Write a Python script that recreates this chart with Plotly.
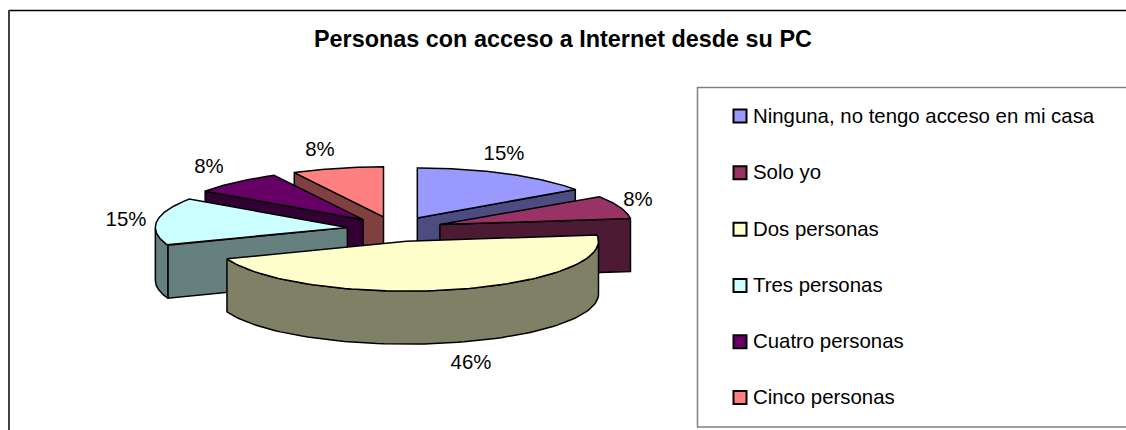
import numpy as np
import plotly.graph_objects as go

TITLE = "Personas con acceso a Internet desde su PC"
categories = [
    "Ninguna, no tengo acceso en mi casa",
    "Solo yo",
    "Dos personas",
    "Tres personas",
    "Cuatro personas",
    "Cinco personas",
]
counts = [2, 1, 6, 2, 1, 1]
top_colors = ["#9999FF", "#993366", "#FFFFCC", "#CCFFFF", "#660066", "#FF8080"]
side_colors = ["#4C4C80", "#4D1A33", "#808066", "#668080", "#330033", "#804040"]

# Projected pie geometry, in page pixels
CX, CY = 395, 229
RX, RY = 192, 50
EXPLODE = 0.25
DEPTH = 53
LABEL_XY = [(504, 155), (638, 201), (471, 364), (126, 221), (209, 168), (320, 151)]
PAINT_ORDER = [5, 4, 3, 0, 1, 2]  # back to front
FONT = "Liberation Sans"

total = sum(counts)
edges = np.radians(np.cumsum([0] + counts) / total * 360)


def rim(theta):
    """Offset from a slice's apex to the rim at a clockwise angle from north."""
    return RX * np.sin(theta), -RY * np.cos(theta)


def poly(fig, xs, ys, fill):
    fig.add_trace(go.Scatter(
        x=xs, y=ys, mode="lines", fill="toself", fillcolor=fill,
        line=dict(color="black", width=1.5), hoverinfo="skip", showlegend=False,
    ))


fig = go.Figure()

for i in PAINT_ORDER:
    a0, a1 = edges[i], edges[i + 1]
    mid = (a0 + a1) / 2
    ax = CX + EXPLODE * RX * np.sin(mid)
    ay = CY - EXPLODE * RY * np.cos(mid)

    # Flat cut face turned toward the viewer, if the slice has one
    face_angle = a1 if a1 < np.pi / 2 else (a0 if a0 > np.pi else None)
    if face_angle is not None:
        dx, dy = rim(face_angle)
        poly(fig,
             [ax, ax + dx, ax + dx, ax, ax],
             [ay, ay + dy, ay + dy + DEPTH, ay + DEPTH, ay],
             side_colors[i])

    # Curved outer wall, on the front half of the rim only
    w0, w1 = max(a0, np.pi / 2), min(a1, 1.5 * np.pi)
    if w1 > w0:
        t = np.linspace(w0, w1, 80)
        dx, dy = rim(t)
        poly(fig,
             np.r_[ax + dx, (ax + dx)[::-1], ax + dx[0]],
             np.r_[ay + dy, (ay + dy + DEPTH)[::-1], ay + dy[0]],
             side_colors[i])

    # Top surface
    t = np.linspace(a0, a1, 80)
    dx, dy = rim(t)
    poly(fig, np.r_[ax, ax + dx, ax], np.r_[ay, ay + dy, ay], top_colors[i])

# Percentage labels
fig.add_trace(go.Scatter(
    x=[p[0] for p in LABEL_XY], y=[p[1] for p in LABEL_XY],
    mode="text", text=[f"{round(100 * c / total)}%" for c in counts],
    textposition="middle center",
    textfont=dict(family=FONT, size=20.4, color="black"),
    hoverinfo="skip", showlegend=False,
))

# Legend rows
legend_y = [116, 172.7, 229.3, 285.5, 341.7, 397.5]
fig.add_trace(go.Scatter(
    x=[740] * len(categories), y=legend_y, mode="markers",
    marker=dict(symbol="square", size=13, color=top_colors,
                line=dict(color="black", width=2)),
    hoverinfo="skip", showlegend=False,
))
fig.add_trace(go.Scatter(
    x=[753] * len(categories), y=[v + 1.5 for v in legend_y], mode="text",
    text=categories, textposition="middle right",
    textfont=dict(family=FONT, size=20.4, color="black"),
    hoverinfo="skip", showlegend=False,
))

fig.update_layout(
    width=1126, height=430, margin=dict(l=0, r=0, t=0, b=0),
    paper_bgcolor="white", plot_bgcolor="white", showlegend=False,
    xaxis=dict(range=[0, 1126], visible=False, fixedrange=True),
    yaxis=dict(range=[430, 0], visible=False, fixedrange=True),
    shapes=[
        dict(type="line", xref="x", yref="y", x0=9, x1=1126, y0=10.5, y1=10.5,
             line=dict(color="black", width=1.3)),
        dict(type="line", xref="x", yref="y", x0=9, x1=9, y0=10, y1=430,
             line=dict(color="#404040", width=2)),
        dict(type="rect", xref="x", yref="y", x0=697.5, x1=1130, y0=87.5, y1=427,
             line=dict(color="#808080", width=1.5)),
    ],
    annotations=[dict(
        x=563, y=39, xref="x", yref="y", text=f"<b>{TITLE}</b>", showarrow=False,
        font=dict(family=FONT, size=23.4, color="black"),
    )],
)

fig.write_html("out.html", config=dict(displayModeBar=False))
